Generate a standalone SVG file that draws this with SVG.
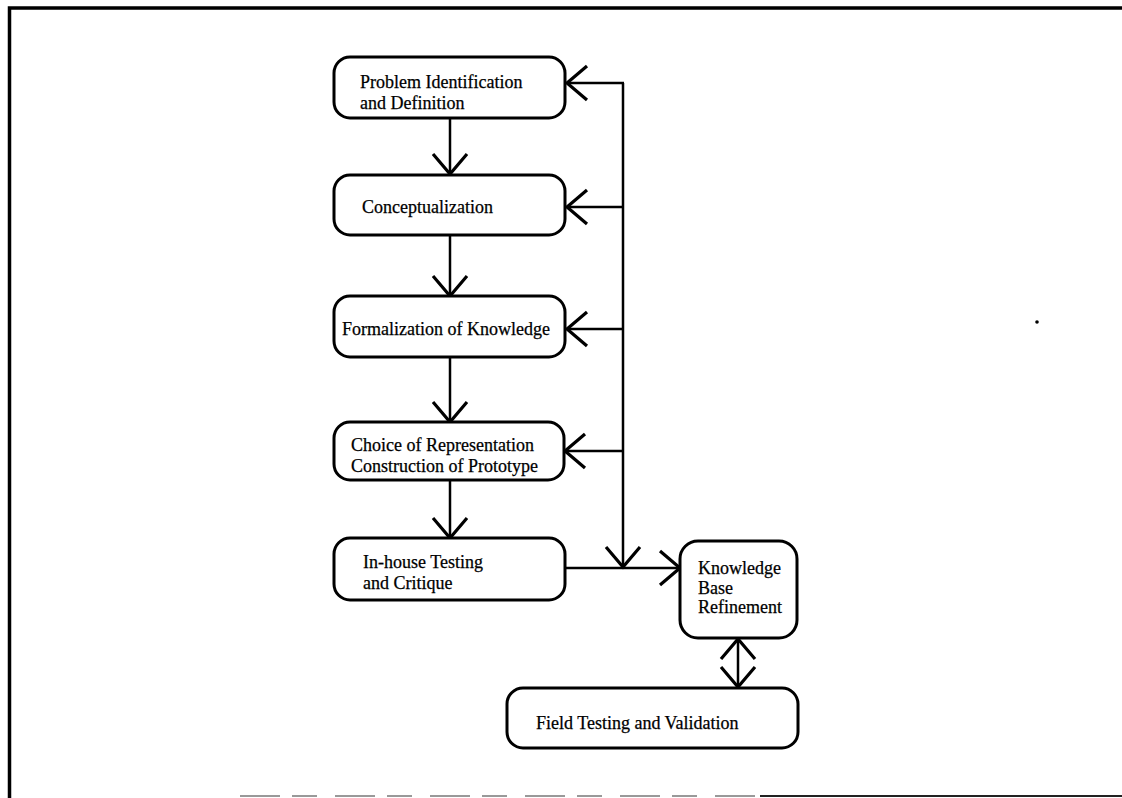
<svg xmlns="http://www.w3.org/2000/svg" width="1122" height="798" viewBox="0 0 1122 798">
  <style>
    .box { fill: #fff; stroke: #000; stroke-width: 3; }
    .lbl { font-family: "Liberation Serif", "Times New Roman", serif; font-size: 18px; fill: #000; stroke: #000; stroke-width: 0.25; }
    .wire { fill: none; stroke: #000; stroke-width: 2.5; }
    .arr { marker-end: url(#vhead); }
  </style>
  <defs>
    <marker id="vhead" viewBox="-24 -20 28 40" refX="0" refY="0" markerUnits="userSpaceOnUse" markerWidth="28" markerHeight="40" orient="auto-start-reverse">
      <path d="M-20,-17 L0,0 L-20,17" fill="none" stroke="#000" stroke-width="3.2"/>
    </marker>
  </defs>

  <rect width="1122" height="798" fill="#fff"/>

  <!-- outer frame -->
  <g id="frame">
    <path d="M9.5,798 V8 H1122" fill="none" stroke="#000" stroke-width="3.5"/>
    <line x1="240" y1="796" x2="760" y2="796" stroke="#999" stroke-width="2" stroke-dasharray="40 12 25 18"/>
    <line x1="760" y1="796" x2="1122" y2="796" stroke="#222" stroke-width="2.2"/>
    <circle cx="1037" cy="322" r="1.8" fill="#000"/>
  </g>

  <!-- connectors -->
  <g id="connectors">
    <line class="wire arr" x1="450" y1="118" x2="450" y2="174"/>
    <line class="wire arr" x1="450" y1="235" x2="450" y2="296"/>
    <line class="wire arr" x1="450" y1="357" x2="450" y2="422"/>
    <line class="wire arr" x1="450" y1="480" x2="450" y2="538"/>
    <!-- feedback bus -->
    <line class="wire arr" x1="623" y1="83" x2="623" y2="567"/>
    <polyline class="wire arr" points="624,83 567,83"/>
    <line class="wire arr" x1="623" y1="207" x2="567" y2="207"/>
    <line class="wire arr" x1="623" y1="329" x2="567" y2="329"/>
    <line class="wire arr" x1="623" y1="451" x2="565" y2="451"/>
    <!-- testing to refinement -->
    <line class="wire arr" x1="566" y1="568" x2="680" y2="568"/>
    <!-- refinement <-> field testing -->
    <line class="wire" x1="738" y1="639" x2="738" y2="687" marker-start="url(#vhead)" marker-end="url(#vhead)"/>
  </g>

  <g id="problem">
    <rect class="box" x="334" y="57" width="231" height="61" rx="16"/>
    <text class="lbl" x="360" y="88">Problem Identification</text>
    <text class="lbl" x="360" y="109">and Definition</text>
  </g>

  <g id="concept">
    <rect class="box" x="334" y="175" width="231" height="60" rx="16"/>
    <text class="lbl" x="362" y="213">Conceptualization</text>
  </g>

  <g id="formal">
    <rect class="box" x="334" y="296" width="231" height="61" rx="16"/>
    <text class="lbl" x="342" y="335">Formalization of Knowledge</text>
  </g>

  <g id="represent">
    <rect class="box" x="334" y="422" width="230" height="58" rx="16"/>
    <text class="lbl" x="351" y="451">Choice of Representation</text>
    <text class="lbl" x="351" y="472">Construction of Prototype</text>
  </g>

  <g id="inhouse">
    <rect class="box" x="334" y="538" width="231" height="62" rx="16"/>
    <text class="lbl" x="363" y="568">In-house Testing</text>
    <text class="lbl" x="363" y="589">and Critique</text>
  </g>

  <g id="refine">
    <rect class="box" x="680" y="541" width="117" height="97" rx="18"/>
    <text class="lbl" x="698" y="574">Knowledge</text>
    <text class="lbl" x="698" y="594">Base</text>
    <text class="lbl" x="698" y="613">Refinement</text>
  </g>

  <g id="field">
    <rect class="box" x="507" y="688" width="291" height="60" rx="16"/>
    <text class="lbl" x="536" y="729">Field Testing and Validation</text>
  </g>
</svg>
